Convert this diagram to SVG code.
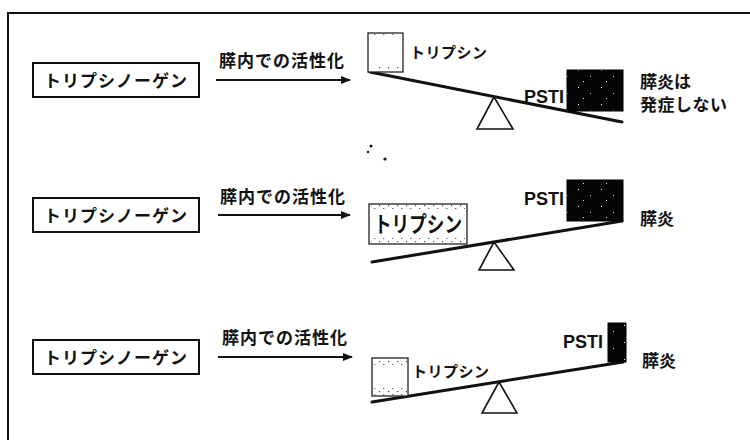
<svg xmlns="http://www.w3.org/2000/svg" width="750" height="440" viewBox="0 0 750 440">
<defs>
<style>
.jp{font-family:"Noto Sans CJK JP","Noto Sans",sans-serif;font-weight:bold;fill:#111}
.lat{font-family:"Liberation Sans",Arial,sans-serif;font-weight:bold;fill:#111}
.box{fill:#fff;stroke:#111;stroke-width:2}
.tbox{fill:#fff;stroke:#222;stroke-width:1.3}
.beam{stroke:#111;stroke-width:3;stroke-linecap:round;fill:none}
.ful{fill:#fff;stroke:#111;stroke-width:1.6;stroke-linejoin:miter}
.arr{stroke:#111;stroke-width:2;fill:none}
.psti{fill:url(#speck);stroke:#000;stroke-width:1}
.grain{fill:url(#grain)}
</style>
<pattern id="speck" width="23" height="17" patternUnits="userSpaceOnUse">
<rect width="23" height="17" fill="#050505"/>
<rect x="3" y="2" width="1" height="1" fill="#fff"/>
<rect x="15" y="8" width="1" height="1" fill="#ccc"/>
<rect x="8" y="13" width="1" height="1" fill="#eee"/>
</pattern>
<pattern id="grain" width="9" height="6" patternUnits="userSpaceOnUse">
<rect x="1" y="1" width="1.2" height="1.2" fill="#444"/>
<rect x="5" y="4" width="1.4" height="1" fill="#666"/>
</pattern>
<marker id="ah" markerWidth="10" markerHeight="8" refX="9" refY="4" orient="auto" markerUnits="userSpaceOnUse">
<path d="M0,0 L10,4 L0,8 Z" fill="#111"/>
</marker>
</defs>
<rect width="750" height="440" fill="#fff"/>

<g id="frame">
<path d="M8,440 L8,13 L750,13" fill="none" stroke="#111" stroke-width="2"/>
</g>

<g id="connectors">
<line class="arr" x1="216" y1="80" x2="350" y2="80" marker-end="url(#ah)"/>
<line class="arr" x1="218" y1="215" x2="350" y2="215" marker-end="url(#ah)"/>
<line class="arr" x1="218" y1="357" x2="352" y2="357" marker-end="url(#ah)"/>
</g>

<!-- Row 1 -->
<g id="trypsinogen1">
<rect class="box" x="33" y="63" width="166" height="34"/>
<text class="jp" x="116" y="87" font-size="17" text-anchor="middle" letter-spacing="1">トリプシノーゲン</text>
</g>
<g id="label1"><text class="jp" x="282" y="67" font-size="17" text-anchor="middle" letter-spacing="1">膵内での活性化</text></g>
<g id="seesaw1">
<polygon class="ful" points="494,97 477,129 513,129"/>
<line class="beam" x1="370" y1="72" x2="622" y2="122"/>
</g>
<g id="trypsin1">
<rect class="tbox" x="368" y="33" width="35" height="39"/>
<rect class="grain" x="370" y="34" width="31" height="3"/>
<rect class="grain" x="372" y="67" width="28" height="3"/>
<text class="jp" x="410" y="58" font-size="15" letter-spacing="0.5">トリプシン</text>
</g>
<g id="psti1">
<rect class="psti" x="567" y="70" width="56" height="41"/>
<text class="lat" x="564" y="103" font-size="18" text-anchor="end">PSTI</text>
</g>
<g id="result1">
<text class="jp" x="640" y="88" font-size="17">膵炎は</text>
<text class="jp" x="640" y="111" font-size="17" letter-spacing="0.5">発症しない</text>
</g>
<g id="dots">
<circle cx="371" cy="146" r="1.5" fill="#111"/>
<circle cx="368" cy="152" r="1.2" fill="#111"/>
<circle cx="385" cy="159" r="1.6" fill="#111"/>
</g>

<!-- Row 2 -->
<g id="trypsinogen2">
<rect class="box" x="33" y="198" width="166" height="34"/>
<text class="jp" x="116" y="222" font-size="17" text-anchor="middle" letter-spacing="1">トリプシノーゲン</text>
</g>
<g id="label2"><text class="jp" x="283" y="203" font-size="17" text-anchor="middle" letter-spacing="1">膵内での活性化</text></g>
<g id="seesaw2">
<polygon class="ful" points="494,242 479,270 514,270"/>
<line class="beam" x1="372" y1="262" x2="622" y2="221"/>
</g>
<g id="trypsin2">
<rect class="tbox" x="369" y="204" width="98" height="40"/>
<rect class="grain" x="371" y="205" width="94" height="5"/>
<rect class="grain" x="371" y="237" width="94" height="6"/>
<text class="jp" x="374" y="232" font-size="22" textLength="88" lengthAdjust="spacingAndGlyphs">トリプシン</text>
</g>
<g id="psti2">
<rect class="psti" x="567" y="180" width="56" height="41"/>
<text class="lat" x="564" y="205" font-size="18" text-anchor="end">PSTI</text>
</g>
<g id="result2"><text class="jp" x="640" y="225" font-size="17">膵炎</text></g>

<!-- Row 3 -->
<g id="trypsinogen3">
<rect class="box" x="33" y="340" width="166" height="34"/>
<text class="jp" x="116" y="364" font-size="17" text-anchor="middle" letter-spacing="1">トリプシノーゲン</text>
</g>
<g id="label3"><text class="jp" x="285" y="344" font-size="17" text-anchor="middle" letter-spacing="1">膵内での活性化</text></g>
<g id="seesaw3">
<polygon class="ful" points="499,382 482,413 517,413"/>
<line class="beam" x1="372" y1="402" x2="623" y2="362"/>
</g>
<g id="trypsin3">
<rect class="tbox" x="372" y="358" width="36" height="38"/>
<rect class="grain" x="373" y="359" width="34" height="6"/>
<rect class="grain" x="373" y="387" width="34" height="8"/>
<text class="jp" x="412" y="377" font-size="15" letter-spacing="0.5">トリプシン</text>
</g>
<g id="psti3">
<rect class="psti" x="608" y="323" width="18" height="39"/>
<text class="lat" x="603" y="348" font-size="18" text-anchor="end">PSTI</text>
</g>
<g id="result3"><text class="jp" x="642" y="367" font-size="17">膵炎</text></g>
</svg>
